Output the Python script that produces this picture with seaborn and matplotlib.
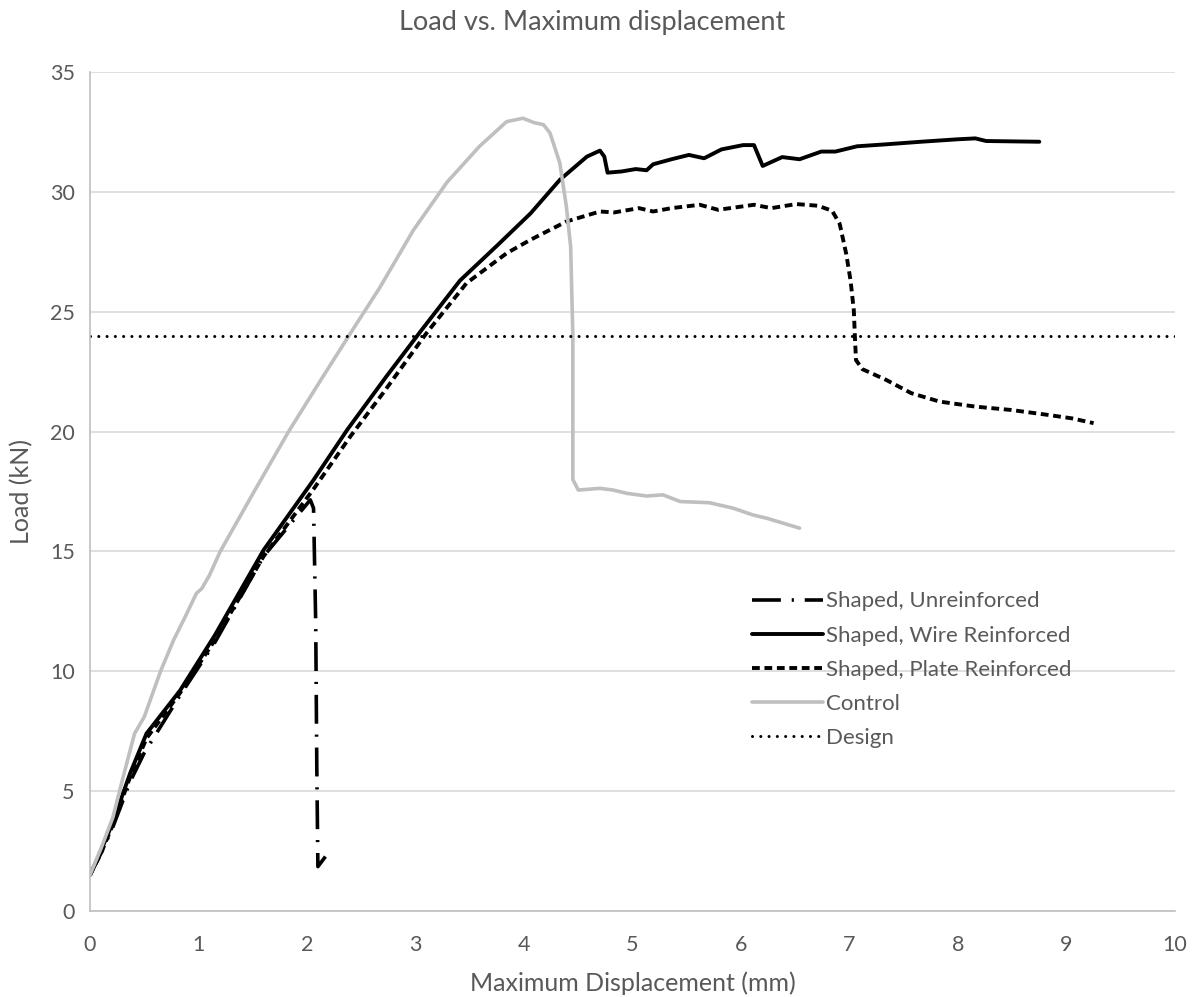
import matplotlib
matplotlib.use("Agg")
import matplotlib.pyplot as plt
import seaborn as sns

# Control
control_x = [0, 0.1, 0.21, 0.3, 0.41, 0.5, 0.65, 0.77, 0.88, 0.98, 1.03, 1.1, 1.2, 1.5, 1.83,
             2.12, 2.4, 2.67, 2.98, 3.29, 3.59, 3.84, 3.99, 4.09, 4.18, 4.24, 4.33, 4.39, 4.43,
             4.45, 4.45, 4.5, 4.7, 4.82, 4.95, 5.13, 5.28, 5.44, 5.71, 5.93, 6.11, 6.24, 6.54]
control_y = [1.5, 2.6, 3.9, 5.5, 7.4, 8.1, 10.0, 11.3, 12.3, 13.25, 13.45, 14.0, 15.0, 17.4, 20.0,
             22.1, 24.1, 26.0, 28.4, 30.4, 31.9, 32.93, 33.07, 32.89, 32.8, 32.45, 31.2, 29.4, 27.7,
             24.0, 18.0, 17.56, 17.63, 17.56, 17.42, 17.31, 17.36, 17.08, 17.03, 16.8, 16.52, 16.38, 15.97]

# Shaped, Wire Reinforced
wire_x = [0, 0.1, 0.21, 0.37, 0.52, 0.83, 1.15, 1.6, 2.06, 2.37, 2.73, 3.05, 3.41, 3.75, 4.06,
          4.33, 4.58, 4.7, 4.74, 4.77, 4.9, 5.03, 5.13, 5.19, 5.36, 5.52, 5.66, 5.82, 6.02, 6.12,
          6.2, 6.38, 6.54, 6.74, 6.87, 7.07, 7.33, 7.66, 7.99, 8.16, 8.26, 8.75]
wire_y = [1.5, 2.5, 3.7, 5.75, 7.4, 9.2, 11.5, 15.06, 17.98, 20.07, 22.29, 24.2, 26.3, 27.75, 29.1,
          30.5, 31.47, 31.72, 31.47, 30.8, 30.85, 30.95, 30.9, 31.15, 31.36, 31.54, 31.4, 31.77, 31.95, 31.95,
          31.08, 31.45, 31.36, 31.68, 31.68, 31.9, 31.98, 32.09, 32.19, 32.23, 32.12, 32.09]

# Shaped, Plate Reinforced
plate_x = [0, 0.1, 0.21, 0.37, 0.52, 0.83, 1.15, 1.6, 2.06, 2.4, 2.7, 3.1, 3.47, 3.84, 4.06,
           4.39, 4.7, 4.83, 5.06, 5.19, 5.36, 5.62, 5.79, 6.12, 6.28, 6.51, 6.71, 6.84, 6.91,
           6.97, 7.01, 7.04, 7.05, 7.06, 7.12, 7.34, 7.57, 7.83, 8.16, 8.49, 8.82, 9.05, 9.25]
plate_y = [1.5, 2.4, 3.6, 5.6, 7.2, 9.1, 11.3, 14.8, 17.6, 19.8, 21.6, 24.1, 26.19, 27.44, 28.0,
           28.76, 29.18, 29.14, 29.32, 29.18, 29.32, 29.46, 29.25, 29.46, 29.32, 29.49, 29.42, 29.21, 28.66,
           27.41, 26.3, 25.06, 23.95, 22.98, 22.6, 22.15, 21.6, 21.25, 21.04, 20.9, 20.7, 20.55, 20.35]

# Shaped, Unreinforced
unre_x = [0, 0.1, 0.21, 0.37, 0.5, 0.83, 1.15, 1.6, 2.03, 2.06, 2.08, 2.09, 2.1, 2.17]
unre_y = [1.5, 2.4, 3.5, 5.4, 6.6, 9.0, 11.2, 14.8, 17.15, 16.8, 12.0, 6.0, 1.85, 2.27]

design_load = 24

sns.set_theme(style="white")
plt.rcParams['font.family'] = ['Lato', 'DejaVu Sans']
txt = "#595959"

fig = plt.figure(figsize=(11.96, 9.97), dpi=100)
ax = fig.add_axes([0.0753, 0.0863, 0.9071, 0.8415])

sns.lineplot(x=unre_x, y=unre_y, sort=False, estimator=None, color="black", lw=2.6,
             ax=ax, label="Shaped, Unreinforced")
ax.lines[-1].set_dashes([8, 3, 0.6, 3])
sns.lineplot(x=wire_x, y=wire_y, sort=False, estimator=None, color="black", lw=2.8,
             ax=ax, label="Shaped, Wire Reinforced")
sns.lineplot(x=plate_x, y=plate_y, sort=False, estimator=None, color="black", lw=2.8,
             ax=ax, label="Shaped, Plate Reinforced")
ax.lines[-1].set_dashes([2.0, 1.2])
sns.lineplot(x=control_x, y=control_y, sort=False, estimator=None, color="#bfbfbf", lw=2.6,
             ax=ax, label="Control")
ax.axhline(design_load, color="black", lw=2.2, label="Design", dashes=[0.01, 2.7],
           dash_capstyle="round")

for ln in ax.lines:
    ln.set_solid_capstyle("round")

ax.set_xlim(0, 10)
ax.set_ylim(0, 35)
ax.set_xticks(range(0, 11))
ax.set_yticks(range(0, 36, 5))
ax.yaxis.grid(True, color="#d9d9d9", lw=1.2)
ax.set_axisbelow(True)
for s in ["top", "right"]:
    ax.spines[s].set_visible(False)
for s in ["left", "bottom"]:
    ax.spines[s].set_color("#bfbfbf")
    ax.spines[s].set_linewidth(1.2)
ax.tick_params(axis="both", length=0, labelsize=15.5, labelcolor=txt)
ax.tick_params(axis="x", pad=17)
ax.tick_params(axis="y", pad=11)

ax.set_xlabel("Maximum Displacement (mm)", fontsize=18, color=txt, labelpad=12)
ax.set_ylabel("Load (kN)", fontsize=18, color=txt, labelpad=12)
fig.suptitle("Load vs. Maximum displacement", fontsize=19.5, color=txt, x=0.495, y=0.99)

leg = ax.legend(loc="upper left", bbox_to_anchor=(0.610, 0.381), frameon=False,
                fontsize=16, handlelength=3.2, handletextpad=0.15, labelspacing=0.64,
                borderaxespad=0, borderpad=0)
for t in leg.get_texts():
    t.set_color(txt)

fig.savefig("out.png", dpi=100)
